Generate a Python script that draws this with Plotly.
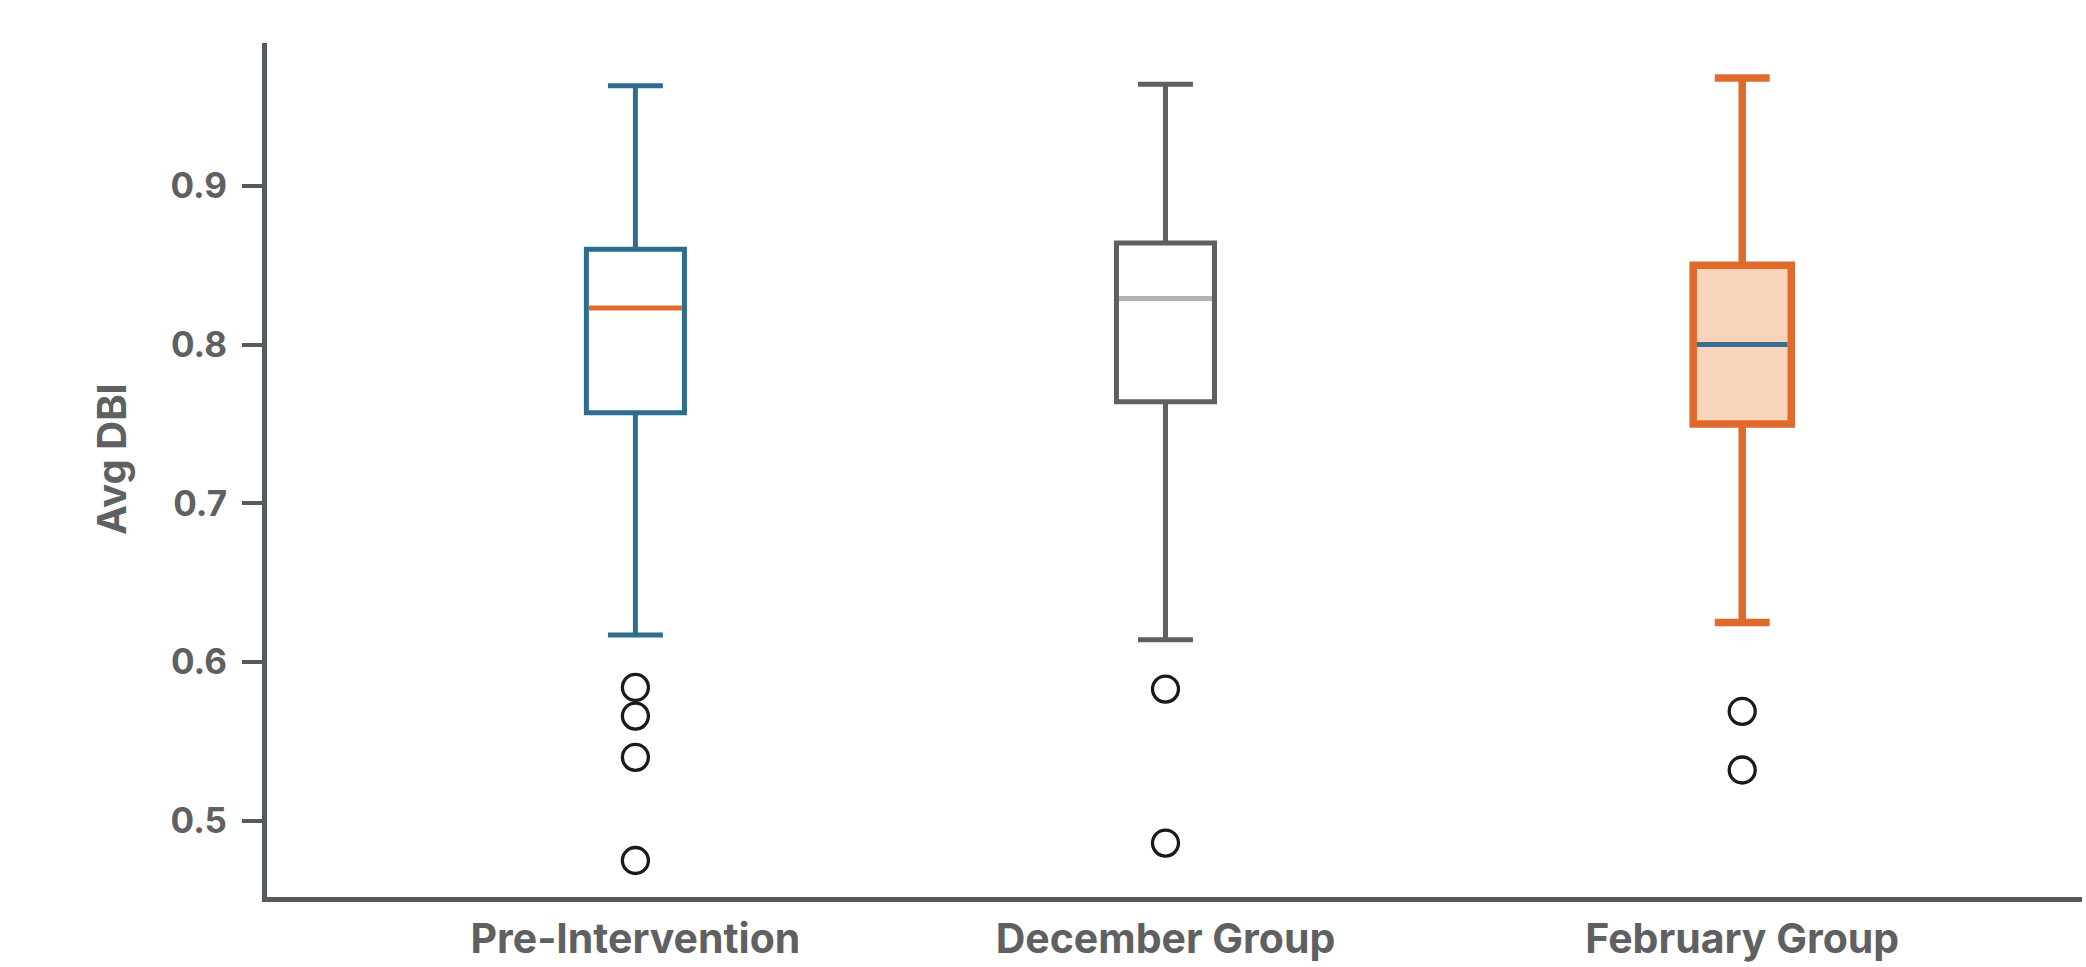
import plotly.graph_objects as go

# Summary statistics for each group (Avg DBI)
groups = ["Pre-Intervention", "December Group", "February Group"]
q1_vals = [0.757, 0.764, 0.750]
median_vals = [0.823, 0.829, 0.800]
q3_vals = [0.860, 0.864, 0.850]
lower_whisker = [0.617, 0.614, 0.625]
upper_whisker = [0.963, 0.964, 0.968]
outliers = [
    [0.584, 0.566, 0.540, 0.475],
    [0.583, 0.486],
    [0.569, 0.532],
]
y_ticks = [0.5, 0.6, 0.7, 0.8, 0.9]

# Layout / styling
GROUP_POS = [0.0, 1.0, 2.088]
BOX_WIDTH = 0.185
box_colors = ["#2e6d8e", "#5f5f5f", "#e06a2b"]
box_fills = ["#ffffff", "#ffffff", "#f8d5ba"]
median_colors = ["#e06a2b", "#b3b3b3", "#3a6f8e"]
line_widths = [5, 5, 7.5]
AXIS_COLOR = "#555a5e"
TEXT_COLOR = "#5f6062"
FONT = "Inter"

fig = go.Figure()

for i, name in enumerate(groups):
    fig.add_trace(go.Box(
        name=name,
        x=[GROUP_POS[i]],
        q1=[q1_vals[i]],
        median=[median_vals[i]],
        q3=[q3_vals[i]],
        lowerfence=[lower_whisker[i]],
        upperfence=[upper_whisker[i]],
        width=BOX_WIDTH,
        whiskerwidth=0.56,
        fillcolor=box_fills[i],
        line=dict(color=box_colors[i], width=line_widths[i]),
        boxpoints=False,
        showlegend=False,
        hoverinfo="skip",
    ))

# Median lines in contrasting colours, drawn over the box interior
for i, name in enumerate(groups):
    half = BOX_WIDTH / 2 - line_widths[i] / 2 / 530.0
    xs = [GROUP_POS[i] - half, GROUP_POS[i] + half]
    ys = [median_vals[i], median_vals[i]]
    fig.add_trace(go.Scatter(
        x=xs, y=ys, mode="lines",
        line=dict(color=box_fills[i], width=line_widths[i] + 2),
        showlegend=False, hoverinfo="skip",
    ))
    fig.add_trace(go.Scatter(
        x=xs, y=ys, mode="lines",
        line=dict(color=median_colors[i], width=5),
        showlegend=False, hoverinfo="skip",
    ))

# Outlier points
for i, name in enumerate(groups):
    fig.add_trace(go.Scatter(
        x=[GROUP_POS[i]] * len(outliers[i]),
        y=outliers[i],
        mode="markers",
        marker=dict(symbol="circle-open", size=26, color="#1a1a1a",
                    line=dict(width=3.3, color="#1a1a1a")),
        showlegend=False, hoverinfo="skip",
    ))

fig.update_layout(
    width=2086, height=967,
    margin=dict(l=267, r=4, t=43, b=70),
    paper_bgcolor="white", plot_bgcolor="white",
    font=dict(family=FONT, color=TEXT_COLOR),
    xaxis=dict(
        range=[-0.695, 2.729],
        tickmode="array", tickvals=GROUP_POS, ticktext=groups,
        ticks="", showgrid=False, zeroline=False, automargin=False,
        showline=True, linecolor=AXIS_COLOR, linewidth=5,
        tickfont=dict(family=FONT, size=41, color=TEXT_COLOR, weight="bold"),
        ticklabelstandoff=2,
    ),
    yaxis=dict(
        range=[0.452, 0.99],
        tickmode="array", tickvals=y_ticks,
        ticktext=[f"{v:.1f}" for v in y_ticks],
        ticks="outside", ticklen=20, tickwidth=4, tickcolor=AXIS_COLOR,
        showgrid=False, zeroline=False, automargin=False,
        showline=True, linecolor=AXIS_COLOR, linewidth=5,
        tickfont=dict(family=FONT, size=35, color=TEXT_COLOR, weight="bold"),
        ticklabelstandoff=8,
    ),
    annotations=[dict(
        text="Avg DBI", textangle=-90,
        xref="paper", yref="paper", x=-0.0854, y=0.513,
        xanchor="center", yanchor="middle", showarrow=False,
        font=dict(family=FONT, size=40, color=TEXT_COLOR, weight="bold"),
    )],
)

fig.write_html("out.html")
